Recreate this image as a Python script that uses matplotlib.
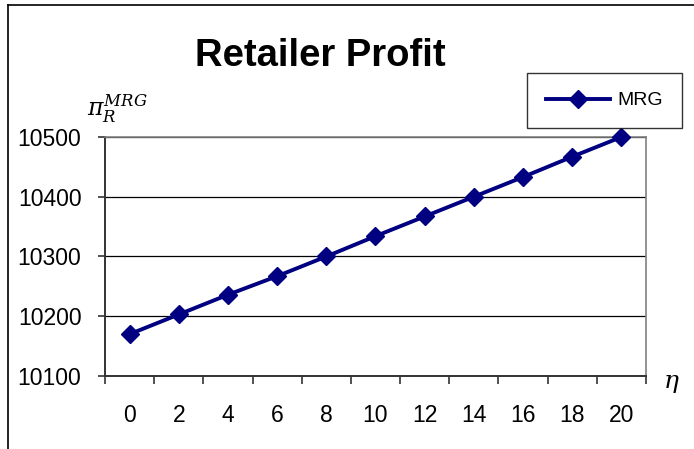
import matplotlib
matplotlib.use('Agg')
import matplotlib.pyplot as plt
from matplotlib.lines import Line2D
from matplotlib.ticker import FixedLocator

plt.rcParams['font.family'] = ['Liberation Sans', 'DejaVu Sans']

# data
eta = ['0', '2', '4', '6', '8', '10', '12', '14', '16', '18', '20']
profit = [10170, 10203, 10236, 10267, 10300, 10334, 10367, 10400, 10433, 10467, 10500]

fig = plt.figure(figsize=(6.94, 4.49), dpi=100)
ax = fig.add_axes([0.1513, 0.1626, 0.7795, 0.5323])

pos = list(range(len(eta)))
ax.plot(pos, profit, color='#000080', lw=2.8, marker='D', ms=9.5,
        mfc='#000080', mec='#000080', label='MRG', clip_on=False, zorder=5)

ax.set_xlim(-0.5, len(eta) - 0.5)
ax.set_ylim(10100, 10500)
ax.set_yticks([10100, 10200, 10300, 10400, 10500])
ax.yaxis.grid(True, color='black', lw=0.9)
ax.set_axisbelow(True)

ax.set_xticks(pos)
ax.set_xticklabels(eta)
ax.xaxis.set_minor_locator(FixedLocator([p - 0.5 for p in pos] + [len(eta) - 0.5]))
ax.tick_params(axis='x', which='major', length=0, pad=20, labelsize=16.5)
ax.tick_params(axis='x', which='minor', length=6, width=1.2, color='#333333')
ax.tick_params(axis='y', length=5, width=1.2, pad=12, labelsize=16.5, color='#333333')

for s in ['top', 'right']:
    ax.spines[s].set_color('#808080')
    ax.spines[s].set_linewidth(1.2)
for s in ['left', 'bottom']:
    ax.spines[s].set_color('#333333')
    ax.spines[s].set_linewidth(1.4)

fig.text(0.461, 0.875, 'Retailer Profit', fontsize=27.5, fontweight='bold',
         ha='center', va='center')
fig.text(0.125, 0.758, r'$\pi_{R}^{MRG}$', fontsize=17, ha='left', va='center',
         math_fontfamily='dejavuserif')
fig.text(0.968, 0.148, r'$\eta$', fontsize=18, ha='center', va='center',
         math_fontfamily='dejavuserif')

leg = ax.legend(loc='center', bbox_to_anchor=(0.871, 0.776), bbox_transform=fig.transFigure,
                fontsize=14, frameon=True, fancybox=False, handlelength=3.3,
                borderpad=0.95, handletextpad=0.4, borderaxespad=0, edgecolor='black')
leg.get_frame().set_linewidth(1.0)
leg.set_zorder(10)

# outer chart border (left and top visible)
fig.add_artist(Line2D([0.0115, 0.0115], [0.0, 0.989], color='black', lw=1.2))
fig.add_artist(Line2D([0.0115, 1.0], [0.989, 0.989], color='black', lw=1.2))

fig.savefig('out.png', dpi=100)
